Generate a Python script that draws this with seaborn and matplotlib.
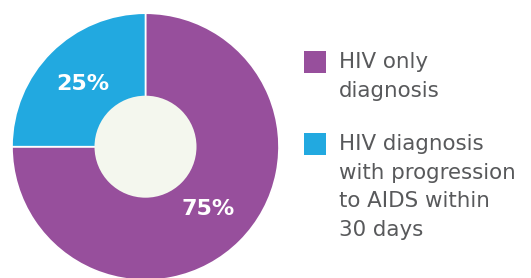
import matplotlib
matplotlib.use("Agg")
import matplotlib.pyplot as plt
import seaborn as sns
from matplotlib.patches import Circle, Rectangle

sns.set_theme(style="white")
plt.rcParams['font.family'] = ['DejaVu Sans']

categories = ["HIV only\ndiagnosis", "HIV diagnosis\nwith progression\nto AIDS within\n30 days"]
values = [75, 25]
colors = ["#974F9C", "#22A9E0"]
center_color = "#F4F7EE"
text_color = "#58595B"

W, H = 531, 278
fig = plt.figure(figsize=(W / 100, H / 100), dpi=100)
fig.patch.set_facecolor("white")

# pie axes: center (145.5, 146.7) px, radius 133.5 px
cx, cy, r = 145.5, 146.7, 133.5
ax = fig.add_axes([(cx - r) / W, (H - cy - r) / H, 2 * r / W, 2 * r / H])
wedges, texts, autotexts = ax.pie(
    values, colors=colors, startangle=90, counterclock=False, radius=1.0,
    autopct=lambda p: f"{p:.0f}%", pctdistance=0.665,
    wedgeprops=dict(edgecolor="white", linewidth=1.2),
    textprops=dict(color="white", fontsize=16, fontweight="bold"))
ax.add_patch(Circle((0, 0), 51 / r, facecolor=center_color, edgecolor="none", zorder=5))
ax.set_xlim(-1, 1)
ax.set_ylim(-1, 1)
ax.set_aspect("equal")
ax.axis("off")

# legend
sq = 22
sq_x = 304
sq_tops = [51, 133]
first_baselines = [68.5, 150.3]
line_step = 28.4
for lab, col, top, base in zip(categories, colors, sq_tops, first_baselines):
    fig.patches.append(Rectangle((sq_x / W, (H - top - sq) / H), sq / W, sq / H,
                                 transform=fig.transFigure, facecolor=col,
                                 edgecolor="none"))
    for i, line in enumerate(lab.split("\n")):
        fig.text(339 / W, (H - base - i * line_step) / H, line, color=text_color,
                 fontsize=15.4, va="baseline", ha="left")

fig.savefig("out.png", dpi=100, facecolor="white")
